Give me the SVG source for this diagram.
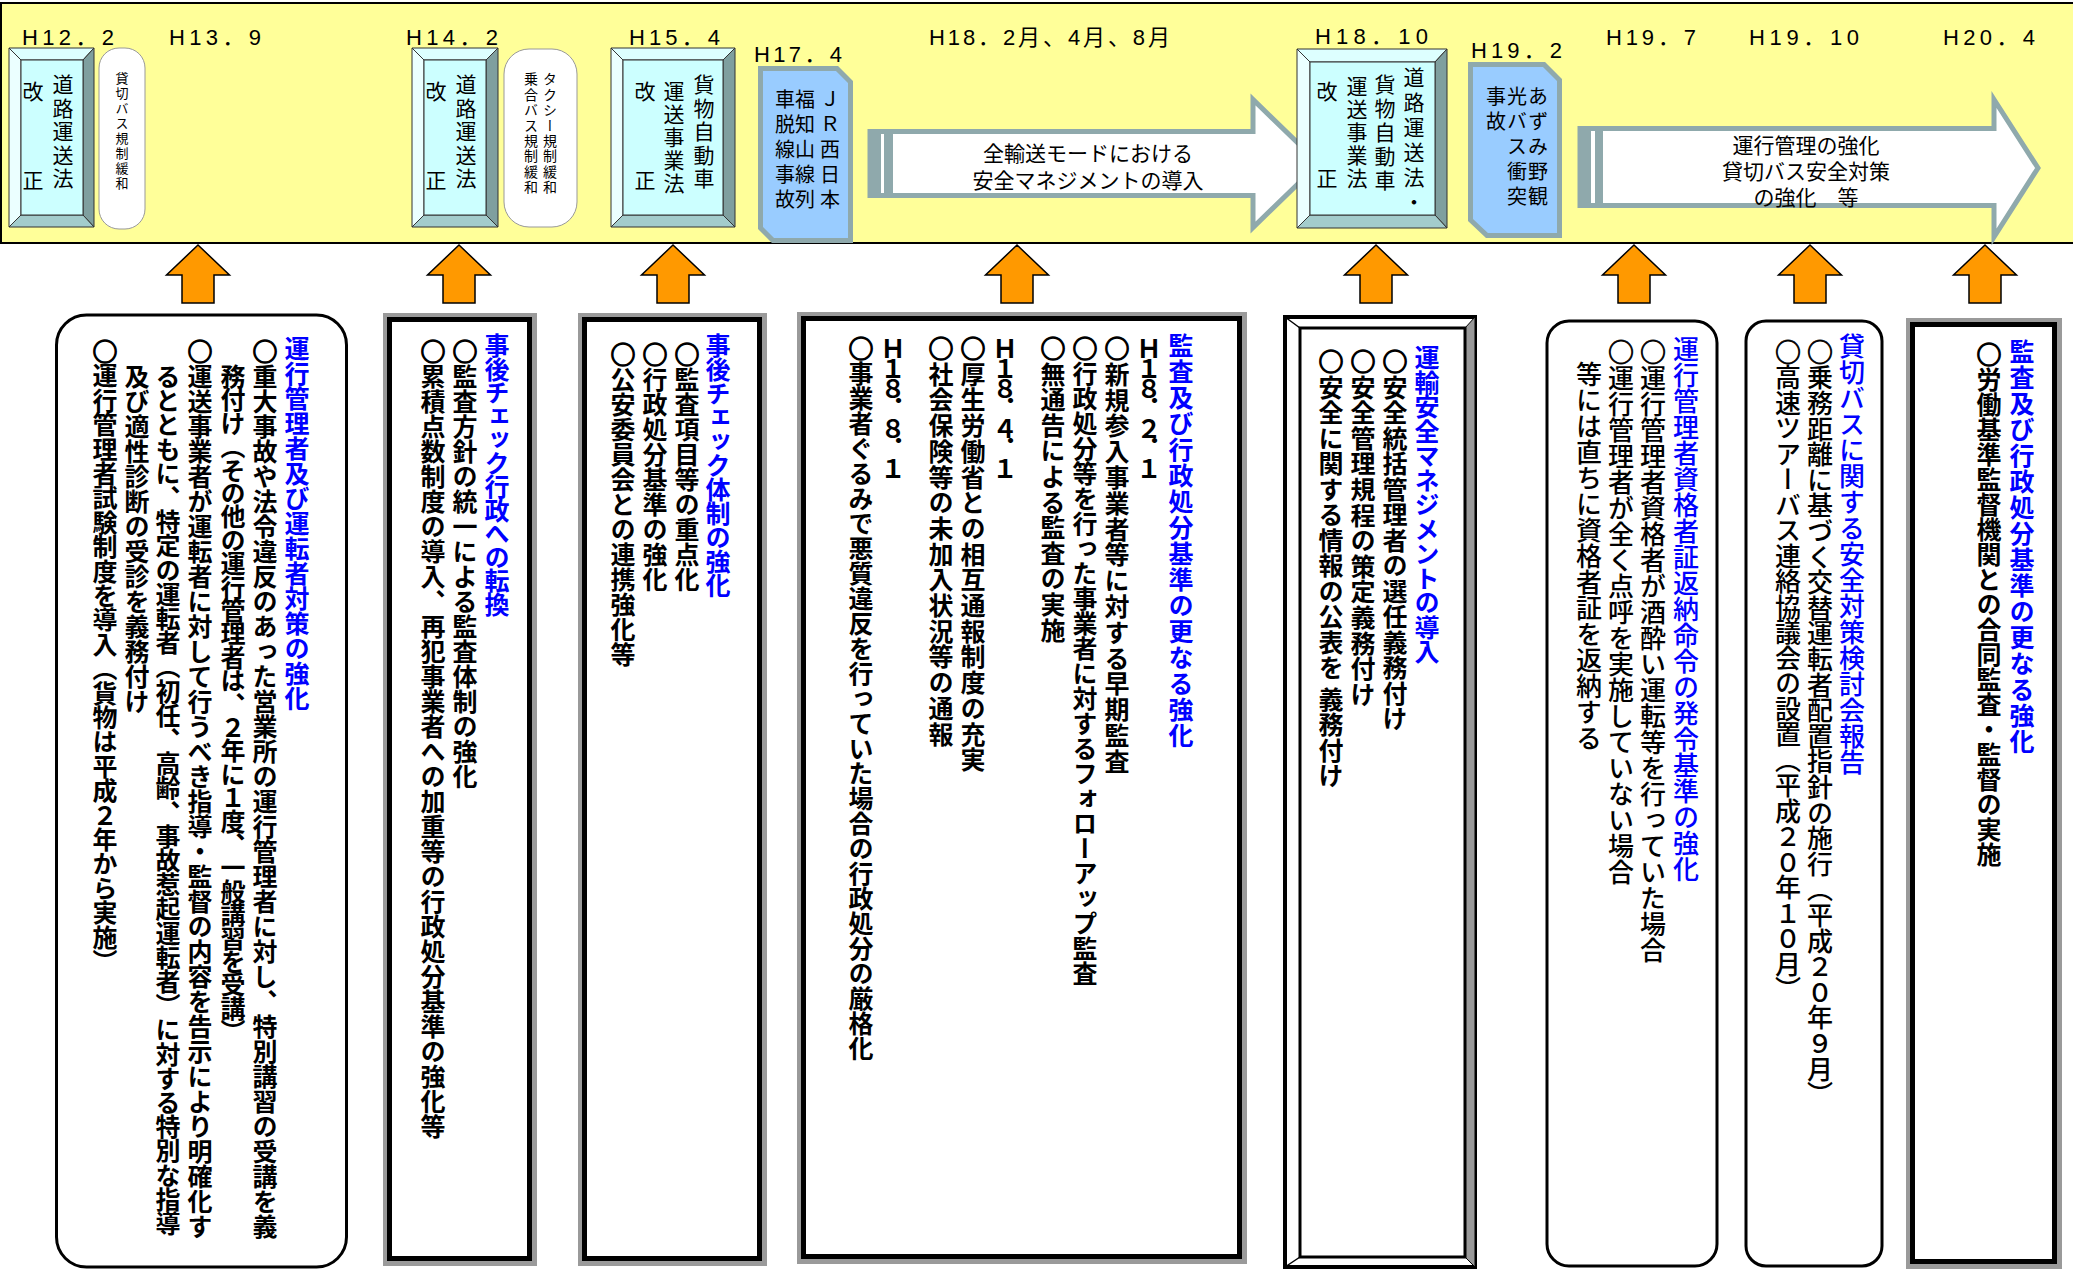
<svg xmlns="http://www.w3.org/2000/svg" xmlns:xlink="http://www.w3.org/1999/xlink" width="2073" height="1271" viewBox="0 0 2073 1271">
<style>
.lbl{font-family:"Liberation Sans","Noto Sans CJK JP",sans-serif;font-size:22px;fill:#000}
.v{writing-mode:vertical-rl;font-family:"Noto Sans CJK JP",sans-serif;fill:#000}
.o{text-orientation:upright;stroke:#000;stroke-width:1.3px}
.bt{font-size:21px;letter-spacing:2.4px}
.pt{font-size:13px;letter-spacing:2px}
.bx{font-size:25px;font-weight:bold}
.rg{font-size:26px;font-weight:500}
.hd{fill:#0000FF}
.at{font-family:"Noto Sans CJK JP",sans-serif;font-size:21px;fill:#000;text-anchor:middle;dominant-baseline:central}
.bvt{fill:#DDFFFF;stroke:#333;stroke-width:1}
.bvl{fill:#EBFFFF;stroke:#333;stroke-width:1}
.bvr{fill:#7F9F9F;stroke:#333;stroke-width:1}
.bvb{fill:#A3CCCC;stroke:#333;stroke-width:1}
.bvf{fill:#CCFFFF;stroke:#333;stroke-width:1}
.pill{fill:#FFFFFF;stroke:#999;stroke-width:1}
.blue{fill:#99CCFF;stroke:#8FA9AC;stroke-width:5;stroke-linejoin:miter}
.bigarr{fill:#FFFFFF;stroke:#8FA9AC;stroke-width:5}
.stripe{fill:#8FA9AC}
.rnd{fill:#FFFFFF;stroke:#000;stroke-width:3}
.shd{fill:#9A9A9A}
.dbl{fill:#FFFFFF;stroke:#000;stroke-width:5}
</style>
<defs>
<path id="up" d="M0,0 L31.5,30 L16,30 L16,58 L-16,58 L-16,30 L-31.5,30 Z" fill="#FF9900" stroke="#000" stroke-width="1.5"/>
</defs>

<g id="band">
<rect x="1" y="3" width="2090" height="240" fill="#FFFF99" stroke="#000" stroke-width="2"/>
</g>

<g id="dates">
<text class="lbl" x="22" y="45" textLength="92" lengthAdjust="spacing">H12．2</text>
<text class="lbl" x="169" y="45" textLength="92" lengthAdjust="spacing">H13．9</text>
<text class="lbl" x="406" y="45" textLength="92" lengthAdjust="spacing">H14．2</text>
<text class="lbl" x="629" y="45" textLength="91" lengthAdjust="spacing">H15．4</text>
<text class="lbl" x="754" y="62" textLength="88" lengthAdjust="spacing">H17．4</text>
<text class="lbl" x="929" y="45" textLength="241" lengthAdjust="spacing">H18．2月、4月、8月</text>
<text class="lbl" x="1315" y="44" textLength="113" lengthAdjust="spacing">H18．10</text>
<text class="lbl" x="1471" y="58" textLength="91" lengthAdjust="spacing">H19．2</text>
<text class="lbl" x="1606" y="45" textLength="90" lengthAdjust="spacing">H19．7</text>
<text class="lbl" x="1749" y="45" textLength="110" lengthAdjust="spacing">H19．10</text>
<text class="lbl" x="1943" y="45" textLength="92" lengthAdjust="spacing">H20．4</text>
</g>

<g id="law-h12">
<polygon class="bvt" points="9,48 94,48 83,60 21,60"/>
<polygon class="bvl" points="9,48 21,60 21,215 9,227"/>
<polygon class="bvr" points="94,48 94,227 83,215 83,60"/>
<polygon class="bvb" points="9,227 21,215 83,215 94,227"/>
<rect class="bvf" x="21" y="60" width="62" height="155"/>
<text class="v bt" x="63" y="74">道路運送法</text>
<text class="v bt" x="33" y="81">改</text>
<text class="v bt" x="33" y="170">正</text>
</g>

<g id="dereg-h12">
<rect class="pill" x="99" y="48" width="46" height="181" rx="20"/>
<text class="v pt" x="122" y="72">貸切バス規制緩和</text>
</g>

<g id="law-h14">
<polygon class="bvt" points="412,48 498,48 486,60 424,60"/>
<polygon class="bvl" points="412,48 424,60 424,215 412,227"/>
<polygon class="bvr" points="498,48 498,227 486,215 486,60"/>
<polygon class="bvb" points="412,227 424,215 486,215 498,227"/>
<rect class="bvf" x="424" y="60" width="62" height="155"/>
<text class="v bt" x="466" y="74">道路運送法</text>
<text class="v bt" x="436" y="81">改</text>
<text class="v bt" x="436" y="170">正</text>
</g>

<g id="dereg-h14">
<rect class="pill" x="504" y="49" width="73" height="178" rx="25"/>
<text class="v" style="font-size:14px;letter-spacing:1.4px" x="550" y="72">タクシー規制緩和</text>
<text class="v" style="font-size:14px;letter-spacing:1.4px" x="531" y="72">乗合バス規制緩和</text>
</g>

<g id="law-h15">
<polygon class="bvt" points="611,48 735,48 723,60 623,60"/>
<polygon class="bvl" points="611,48 623,60 623,215 611,227"/>
<polygon class="bvr" points="735,48 735,227 723,215 723,60"/>
<polygon class="bvb" points="611,227 623,215 723,215 735,227"/>
<rect class="bvf" x="623" y="60" width="100" height="155"/>
<text class="v bt" x="704" y="74">貨物自動車</text>
<text class="v" style="font-size:21px;letter-spacing:2px" x="674" y="81">運送事業法</text>
<text class="v bt" x="645" y="81">改</text>
<text class="v bt" x="645" y="170">正</text>
</g>

<g id="accident-jr">
<polygon class="blue" points="760.5,68.5 837,68.5 850.5,82 850.5,240.5 773,240.5 760.5,228"/>
<text class="v" style="font-size:20px;letter-spacing:5px" x="830" y="89">ＪＲ西日本</text>
<text class="v" style="font-size:20px;letter-spacing:5px" x="805" y="89">福知山線列</text>
<text class="v" style="font-size:20px;letter-spacing:5px" x="785" y="89">車脱線事故</text>
</g>

<g id="arrow-safety">
<path class="bigarr" d="M870,131.5 L1253,131.5 L1253,99.5 L1319,163.5 L1253,227.5 L1253,195.5 L870,195.5 Z"/>
<rect class="stripe" x="868" y="129" width="13" height="69"/>
<rect class="stripe" x="884" y="131" width="9" height="65"/>
<text class="at" x="1088" y="152">全輸送モードにおける</text>
<text class="at" x="1088" y="179">安全マネジメントの導入</text>
</g>

<g id="law-h18">
<polygon class="bvt" points="1297,49 1447,49 1435,62 1310,62"/>
<polygon class="bvl" points="1297,49 1310,62 1310,215 1297,228"/>
<polygon class="bvr" points="1447,49 1447,228 1435,215 1435,62"/>
<polygon class="bvb" points="1297,228 1310,215 1435,215 1447,228"/>
<rect class="bvf" x="1310" y="62" width="125" height="153"/>
<text class="v" style="font-size:21px;letter-spacing:4px" x="1414" y="67">道路運送法・</text>
<text class="v" style="font-size:21px;letter-spacing:2.8px" x="1385" y="74">貨物自動車</text>
<text class="v" style="font-size:21px;letter-spacing:2px" x="1357" y="76">運送事業法</text>
<text class="v bt" x="1327" y="81">改</text>
<text class="v bt" x="1327" y="168">正</text>
</g>

<g id="accident-azumino">
<polygon class="blue" points="1470.5,64.5 1544,64.5 1559.5,80 1559.5,235.5 1487,235.5 1470.5,220"/>
<text class="v" style="font-size:20px;letter-spacing:5px" x="1538" y="86">あずみ野観</text>
<text class="v" style="font-size:20px;letter-spacing:5px" x="1517" y="86">光バス衝突</text>
<text class="v" style="font-size:20px;letter-spacing:5px" x="1496" y="86">事故</text>
</g>

<g id="arrow-bus">
<path class="bigarr" d="M1580,128.5 L1994,128.5 L1994,99.5 L2038,168 L1994,237 L1994,205.5 L1580,205.5 Z"/>
<rect class="stripe" x="1578" y="126" width="13" height="82"/>
<rect class="stripe" x="1595" y="128" width="8" height="78"/>
<text class="at" x="1806" y="144">運行管理の強化</text>
<text class="at" x="1806" y="170">貸切バス安全対策</text>
<text class="at" x="1806" y="196">の強化　等</text>
</g>

<g id="connectors">
<use xlink:href="#up" x="198" y="245"/>
<use xlink:href="#up" x="459" y="245"/>
<use xlink:href="#up" x="673" y="245"/>
<use xlink:href="#up" x="1017" y="245"/>
<use xlink:href="#up" x="1376" y="245"/>
<use xlink:href="#up" x="1634" y="245"/>
<use xlink:href="#up" x="1810" y="245"/>
<use xlink:href="#up" x="1985" y="245"/>
</g>

<g id="box-a">
<rect class="rnd" x="56.5" y="315" width="290" height="952" rx="30"/>
<text class="v bx hd" x="297" y="336">運行管理者及び運転者対策の強化</text>
<text class="v bx" x="265" y="339"><tspan class="o">○</tspan>重大事故や法令違反のあった営業所の運行管理者に対し、特別講習の受講を義</text>
<text class="v bx" style="letter-spacing:-1.6px" x="233" y="364">務付け（その他の運行管理者は、２年に１度、一般講習を受講）</text>
<text class="v bx" x="200" y="339"><tspan class="o">○</tspan>運送事業者が運転者に対して行うべき指導・監督の内容を告示により明確化す</text>
<text class="v bx" style="letter-spacing:-0.8px" x="168" y="364">るとともに、特定の運転者（初任、高齢、事故惹起運転者）に対する特別な指導</text>
<text class="v bx" x="137" y="364">及び適性診断の受診を義務付け</text>
<text class="v bx" style="letter-spacing:-0.6px" x="105" y="339"><tspan class="o">○</tspan>運行管理者試験制度を導入（貨物は平成２年から実施）</text>
</g>

<g id="box-b">
<rect class="shd" x="383" y="313" width="154" height="953"/>
<rect class="dbl" x="389.5" y="319.5" width="140" height="939"/>
<text class="v bx hd" style="letter-spacing:-1.5px" x="497" y="333">事後チェック行政への転換</text>
<text class="v bx" x="465" y="339"><tspan class="o">○</tspan>監査方針の統一による監査体制の強化</text>
<text class="v bx" x="433" y="339"><tspan class="o">○</tspan>累積点数制度の導入、再犯事業者への加重等の行政処分基準の強化等</text>
</g>

<g id="box-c">
<rect class="shd" x="578" y="313" width="189" height="953"/>
<rect class="dbl" x="584.5" y="319.5" width="175" height="939"/>
<text class="v bx hd" style="letter-spacing:-1px" x="718" y="333">事後チェック体制の強化</text>
<text class="v bx" x="687" y="342"><tspan class="o">○</tspan>監査項目等の重点化</text>
<text class="v bx" x="655" y="342"><tspan class="o">○</tspan>行政処分基準の強化</text>
<text class="v bx" x="623" y="342"><tspan class="o">○</tspan>公安委員会との連携強化等</text>
</g>

<g id="box-d">
<rect class="shd" x="797" y="312" width="450" height="952"/>
<rect class="dbl" x="803.5" y="318.5" width="436" height="938"/>
<text class="v bx hd" style="letter-spacing:1px" x="1181" y="333">監査及び行政処分基準の更なる強化</text>
<text class="v bx" style="letter-spacing:-5px" x="1149" y="336">Ｈ１８．２．１</text>
<text class="v bx" style="letter-spacing:0.8px" x="1117" y="336"><tspan class="o">○</tspan>新規参入事業者等に対する早期監査</text>
<text class="v bx" x="1085" y="336"><tspan class="o">○</tspan>行政処分等を行った事業者に対するフォローアップ監査</text>
<text class="v bx" style="letter-spacing:0.6px" x="1053" y="336"><tspan class="o">○</tspan>無通告による監査の実施</text>
<text class="v bx" style="letter-spacing:-5px" x="1005" y="336">Ｈ１８．４．１</text>
<text class="v bx" style="letter-spacing:0.7px" x="973" y="336"><tspan class="o">○</tspan>厚生労働省との相互通報制度の充実</text>
<text class="v bx" style="letter-spacing:0.7px" x="941" y="336"><tspan class="o">○</tspan>社会保険等の未加入状況等の通報</text>
<text class="v bx" style="letter-spacing:-5px" x="893" y="336">Ｈ１８．８．１</text>
<text class="v bx" x="861" y="336"><tspan class="o">○</tspan>事業者ぐるみで悪質違反を行っていた場合の行政処分の厳格化</text>
</g>

<g id="box-e">
<rect x="1285" y="317" width="190" height="950" fill="#FFFFFF" stroke="#000" stroke-width="4"/>
<polygon points="1465,328 1475,317 1475,1267 1465,1257" fill="#999999" stroke="#000" stroke-width="1"/>
<line x1="1285" y1="317" x2="1300" y2="328" stroke="#000" stroke-width="1.5"/>
<line x1="1285" y1="1267" x2="1300" y2="1257" stroke="#000" stroke-width="1.5"/>
<rect x="1300" y="328" width="165" height="929" fill="#FFFFFF" stroke="#000" stroke-width="3"/>
<text class="v bx hd" style="letter-spacing:-0.5px" x="1427" y="345">運輸安全マネジメントの導入</text>
<text class="v bx" style="letter-spacing:0.5px" x="1395" y="349"><tspan class="o">○</tspan>安全統括管理者の選任義務付け</text>
<text class="v bx" style="letter-spacing:0.6px" x="1363" y="349"><tspan class="o">○</tspan>安全管理規程の策定義務付け</text>
<text class="v bx" style="letter-spacing:0.5px" x="1331" y="349"><tspan class="o">○</tspan>安全に関する情報の公表を 義務付け</text>
</g>

<g id="box-f">
<rect class="rnd" x="1547" y="321" width="170" height="945" rx="22"/>
<text class="v rg hd" x="1686" y="336">運行管理者資格者証返納命令の発令基準の強化</text>
<text class="v rg" x="1653" y="339"><tspan class="o" style="stroke-width:0.8px">○</tspan>運行管理者資格者が酒酔い運転等を行っていた場合</text>
<text class="v rg" x="1621" y="339"><tspan class="o" style="stroke-width:0.8px">○</tspan>運行管理者が全く点呼を実施していない場合</text>
<text class="v rg" x="1589" y="361">等には直ちに資格者証を返納する</text>
</g>

<g id="box-g">
<rect class="rnd" x="1746" y="321" width="136" height="945" rx="20"/>
<text class="v rg hd" x="1852" y="333">貸切バスに関する安全対策検討会報告</text>
<text class="v rg" style="letter-spacing:-0.4px" x="1820" y="339"><tspan class="o" style="stroke-width:0.8px">○</tspan>乗務距離に基づく交替運転者配置指針の施行（平成２０年９月）</text>
<text class="v rg" style="letter-spacing:-0.5px" x="1788" y="339"><tspan class="o" style="stroke-width:0.8px">○</tspan>高速ツアーバス連絡協議会の設置（平成２０年１０月）</text>
</g>

<g id="box-h">
<rect class="shd" x="1906" y="318" width="156" height="951"/>
<rect class="dbl" x="1912.5" y="324.5" width="142" height="937"/>
<text class="v bx hd" style="letter-spacing:1px" x="2022" y="339">監査及び行政処分基準の更なる強化</text>
<text class="v bx" x="1989" y="342"><tspan class="o">○</tspan>労働基準監督機関との合同監査・監督の実施</text>
</g>
</svg>
